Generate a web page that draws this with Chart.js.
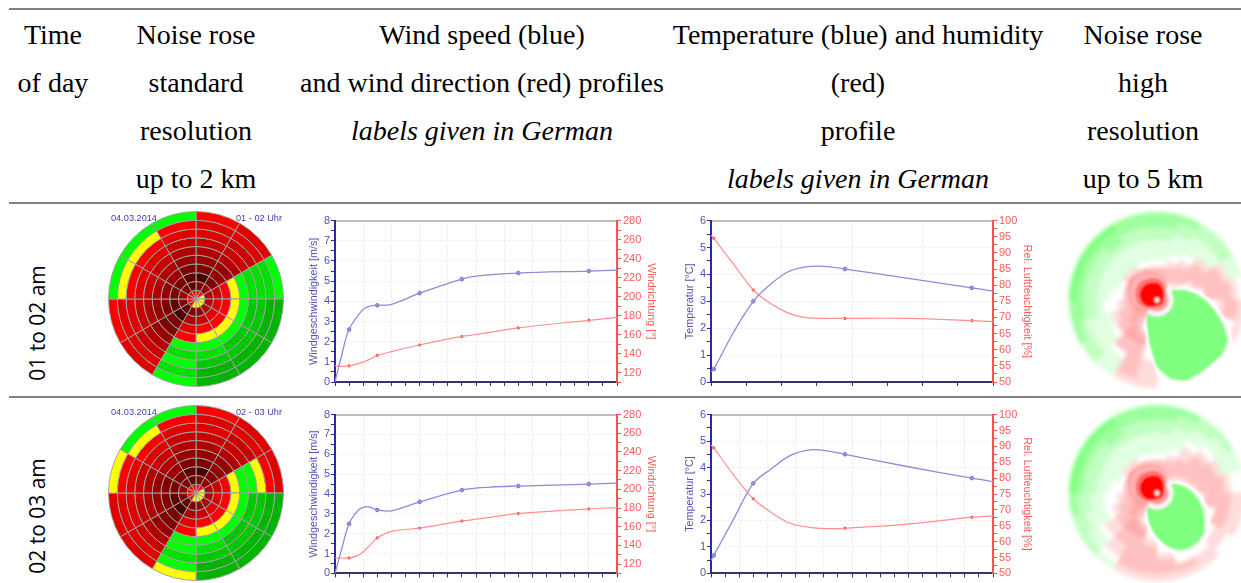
<!DOCTYPE html>
<html>
<head>
<meta charset="utf-8">
<script src="https://cdn.jsdelivr.net/npm/chart.js@4/dist/chart.umd.min.js"></script>
<style>
  html, body { margin: 0; padding: 0; background: #fff; width: 1241px; height: 583px; overflow: hidden; }
  .rule { position: absolute; left: 9px; width: 1232px; height: 2px; background: #808080; }
  .head { position: absolute; top: 11px; font: 28px/48px "Liberation Serif", serif; color: #000; text-align: center; white-space: nowrap; transform: translateX(-50%); }
  .time { position: absolute; left: 37px; font: 21px "Open Sans", sans-serif; color: #000; white-space: nowrap; transform: translate(-50%, -50%) rotate(-90deg); }
  .tag { position: absolute; font: 9.2px "Liberation Sans", sans-serif; color: #4040a8; white-space: nowrap; z-index: 2; }
  canvas { position: absolute; display: block; }
  .rose { filter: blur(0.45px); }
  .fine { filter: blur(2px); }
  .blob { filter: blur(1px); }
  .profile { filter: blur(0.4px); }
</style>
</head>
<body>
<div class="rule" style="top:8px"></div>
<div class="rule" style="top:202px"></div>
<div class="rule" style="top:396px"></div>

<div class="head" style="left:53px">Time<br>of day</div>
<div class="head" style="left:196px">Noise rose<br>standard<br>resolution<br>up to 2 km</div>
<div class="head" style="left:482px">Wind speed (blue)<br>and wind direction (red) profiles<br><i>labels given in German</i></div>
<div class="head" style="left:858px">Temperature (blue) and humidity<br>(red)<br>profile<br><i>labels given in German</i></div>
<div class="head" style="left:1143px">Noise rose<br>high<br>resolution<br>up to 5 km</div>

<div class="time" style="top:323px">01 to 02 am</div>
<div class="time" style="top:516px">02 to 03 am</div>

<div class="tag" style="left:111px;top:213px">04.03.2014</div>
<div class="tag" style="left:236px;top:213px">01 - 02 Uhr</div>
<div class="tag" style="left:111px;top:407px">04.03.2014</div>
<div class="tag" style="left:236px;top:407px">02 - 03 Uhr</div>

<canvas id="rose1" class="rose" width="176" height="176" style="left:108px;top:211px"></canvas>
<canvas id="rose2" class="rose" width="176" height="176" style="left:108px;top:405px"></canvas>
<canvas id="wind1" class="profile" width="360" height="182" style="left:300px;top:212px"></canvas>
<canvas id="wind2" class="profile" width="360" height="176" style="left:300px;top:406px"></canvas>
<canvas id="air1" class="profile" width="370" height="182" style="left:670px;top:212px"></canvas>
<canvas id="air2" class="profile" width="370" height="176" style="left:670px;top:406px"></canvas>
<canvas id="fine1" class="fine" width="176" height="176" style="left:1069px;top:212px"></canvas>
<canvas id="fine2" class="fine" width="176" height="176" style="left:1069px;top:405px"></canvas>
<canvas id="blob1" class="blob" width="176" height="176" style="left:1069px;top:212px"></canvas>
<canvas id="blob2" class="blob" width="176" height="176" style="left:1069px;top:405px"></canvas>

<script>
// --- noise rose, standard resolution: one line per 30 deg sector, clockwise from north,
// rings listed outer to inner. Level: 0-3 green (quiet to louder), 4 yellow, 5-12 red to dark red
const roseLevels1 = [
  [5, 6, 6, 7, 8, 9, 10, 12, 10, 5],
  [6, 6, 7, 7, 8, 9, 9, 10, 9, 5],
  [3, 2, 2, 2, 3, 4, 5, 7, 8, 4],
  [0, 0, 1, 1, 3, 4, 5, 6, 8, 4],
  [0, 0, 1, 1, 3, 4, 5, 6, 8, 4],
  [0, 0, 1, 2, 3, 4, 5, 7, 9, 4],
  [3, 2, 3, 2, 3, 5, 6, 8, 10, 4],
  [6, 6, 7, 8, 9, 10, 10, 12, 11, 5],
  [5, 6, 6, 7, 8, 9, 10, 11, 10, 5],
  [3, 4, 5, 6, 7, 8, 9, 10, 9, 5],
  [3, 4, 5, 6, 7, 8, 9, 10, 10, 5],
  [3, 5, 6, 7, 8, 9, 10, 11, 11, 5],
];
const roseLevels2 = [
  [5, 6, 6, 7, 8, 9, 10, 12, 10, 5],
  [6, 6, 7, 7, 8, 9, 9, 10, 9, 5],
  [6, 5, 4, 3, 3, 4, 5, 7, 8, 4],
  [0, 0, 1, 1, 3, 4, 5, 6, 8, 4],
  [0, 0, 1, 1, 3, 4, 5, 6, 8, 4],
  [0, 0, 1, 2, 3, 4, 5, 7, 9, 4],
  [4, 3, 2, 3, 3, 5, 6, 8, 10, 4],
  [6, 6, 7, 8, 9, 10, 10, 12, 11, 5],
  [6, 6, 6, 7, 8, 9, 10, 11, 10, 5],
  [4, 5, 6, 7, 8, 9, 10, 10, 9, 5],
  [3, 4, 5, 6, 7, 8, 9, 10, 10, 5],
  [3, 5, 6, 7, 8, 9, 10, 11, 11, 5],
];
const rosePalette = ['#00b400', '#00c800', '#00e000', '#00ff00', '#ffff00', '#ff0000',
  '#e00000', '#c80000', '#b00000', '#980000', '#800000', '#600000', '#480000'];
const roseWeights = [1, 1, 1, 1, 1, 1, 1, 1, 1, 1, 1, 1];

// --- noise rose, high resolution: one line per 15 deg sector, clockwise from north,
// rings outer to inner. Negative is green, positive is red, 0 white
const fineLevels1 = [
  [-3, -3, -2, -2, -1, -1, -1, 0, 2, 3, 5, 6, 1],
  [-3, -2, -2, -1, -1, -1, 0, 1, 2, 2, 3, 5, 1],
  [-2, -2, -1, -1, -1, 0, 1, 2, 2, 2, 0, 3, 1],
  [-2, -2, -1, -1, 1, 2, 2, 2, 2, 1, 0, 2, 1],
  [-1, -1, 1, 2, 2, 2, 2, 1, 0, 0, 0, 1, 1],
  [0, 1, 2, 2, 2, 2, 0, 0, 0, 0, 0, 1, 1],
  [1, 2, 2, 1, 0, 0, 0, 0, 0, 0, 0, 1, 1],
  [1, 0, 0, 0, 0, 0, 0, 0, 0, 0, 0, 1, 1],
  [0, 0, 0, 0, 0, 0, 0, 0, 0, 0, 0, 1, 1],
  [0, 0, 0, 0, 0, 0, 0, 0, 0, 0, 0, 0, 1],
  [0, 0, 0, 0, 0, 0, 0, 0, 0, 0, 0, 0, 1],
  [0, 0, 0, 0, 0, 0, 0, 0, 0, 0, 0, 0, 1],
  [1, 1, 1, 1, 0, 0, 0, 0, 0, 0, 0, 0, 1],
  [1, 2, 2, 2, 2, 2, 3, 2, 0, 0, 0, 2, 1],
  [-1, -1, -1, 0, 2, 2, 3, 3, 2, 2, 2, 3, 1],
  [-2, -2, -1, -1, -1, 0, 2, 2, 3, 3, 3, 5, 2],
  [-3, -2, -1, -1, -1, -1, 1, 2, 2, 3, 4, 6, 2],
  [-3, -3, -2, -2, -1, 0, 0, 1, 2, 3, 5, 6, 2],
  [-4, -3, -2, -2, -1, -1, 0, 0, 2, 4, 6, 5, 2],
  [-4, -3, -2, -2, -1, -1, -1, 0, 3, 5, 6, 5, 2],
  [-4, -3, -2, -2, -1, -1, -1, 1, 4, 6, 6, 5, 2],
  [-4, -3, -3, -2, -1, -1, -1, 1, 3, 6, 6, 5, 2],
  [-3, -3, -2, -2, -1, -1, -1, 0, 3, 5, 6, 6, 2],
  [-3, -3, -2, -2, -1, -1, -1, 0, 2, 4, 6, 6, 1],
];
const fineLevels2 = [
  [-3, -3, -2, -2, -1, -1, -1, 0, 2, 3, 5, 6, 1],
  [-3, -2, -2, -1, -1, -1, 0, 1, 2, 2, 3, 5, 1],
  [-2, -2, -1, -1, 0, 1, 1, 2, 2, 2, 2, 3, 1],
  [-2, -1, -1, 0, 1, 2, 2, 2, 2, 1, 0, 2, 1],
  [-1, -1, -1, 1, 2, 2, 2, 2, 1, 0, 0, 1, 1],
  [0, 0, 1, 2, 2, 2, 2, 1, 0, 0, 0, 1, 1],
  [1, 1, 2, 2, 2, 2, 0, 0, 0, 0, 0, 1, 1],
  [1, 1, 2, 2, 0, 0, 0, 0, 0, 0, 0, 1, 1],
  [0, 1, 1, 0, 0, 0, 0, 0, 0, 0, 0, 1, 1],
  [1, 1, 0, 0, 0, 0, 0, 0, 0, 0, 0, 0, 1],
  [1, 2, 0, 0, 0, 0, 0, 0, 0, 0, 0, 0, 1],
  [1, 2, 2, 1, 0, 0, 0, 0, 0, 0, 0, 0, 1],
  [1, 2, 2, 2, 2, 1, 0, 0, 0, 0, 0, 0, 1],
  [1, 2, 2, 2, 2, 2, 3, 2, 0, 0, 0, 2, 1],
  [-1, 0, 1, 1, 2, 2, 3, 3, 2, 2, 2, 3, 1],
  [-2, -1, -1, 0, 1, 1, 2, 2, 3, 3, 3, 5, 2],
  [-2, -2, -1, -1, -1, 0, 1, 2, 2, 3, 4, 6, 2],
  [-3, -2, -2, -1, -1, 0, 0, 1, 2, 3, 5, 6, 2],
  [-4, -3, -2, -2, -1, -1, 0, 0, 2, 4, 6, 5, 2],
  [-4, -3, -2, -2, -1, -1, -1, 0, 3, 5, 6, 5, 2],
  [-4, -3, -2, -2, -1, -1, -1, 1, 4, 6, 6, 5, 2],
  [-4, -3, -3, -2, -1, -1, -1, 1, 3, 6, 6, 5, 2],
  [-3, -3, -2, -2, -1, -1, -1, 0, 3, 5, 6, 6, 2],
  [-3, -3, -2, -2, -1, -1, -1, 0, 2, 4, 6, 6, 1],
];
const finePalette = { '-4': '#80ff80', '-3': '#9cff9c', '-2': '#c0ffc0', '-1': '#e0ffe0', '0': '#ffffff',
  '1': '#ffdcdc', '2': '#ffc0c0', '3': '#ffa8a8', '4': '#ff8888', '5': '#ff4040', '6': '#ff0000' };
const fineWeights = [1, 1, 1, 1, 1, 1, 1, 1, 1, 1, 1, 1, 1, 1, 1, 1, 1, 1, 1, 1, 1, 1, 1, 1];

// --- sharp shapes on top of the high resolution rose: radial extent per 10 deg bearing,
// clockwise from north, radius 264 being the rim of the rose
const fineBearings = ['0', '10', '20', '30', '40', '50', '60', '70', '80', '90', '100', '110',
  '120', '130', '140', '150', '160', '170', '180', '190', '200', '210', '220', '230',
  '240', '250', '260', '270', '280', '290', '300', '310', '320', '330', '340', '350'];
const fineGap1 = [0, 0, 0, 0, 0, 0, 78, 105, 132, 162, 192, 230, 262, 264, 264, 264, 264, 258, 218, 150, 102, 78,
  0, 0, 0, 0, 0, 0, 0, 0, 0, 0, 0, 0, 0, 0];
const fineBlob1 = [0, 0, 0, 0, 0, 0, 60, 88, 115, 145, 175, 212, 245, 255, 252, 255, 257, 240, 200, 130, 85, 62,
  0, 0, 0, 0, 0, 0, 0, 0, 0, 0, 0, 0, 0, 0];
const fineGap2 = [0, 0, 0, 0, 0, 0, 72, 88, 106, 126, 146, 166, 182, 200, 208, 208, 198, 176, 148, 120, 95, 75,
  0, 0, 0, 0, 0, 0, 0, 0, 0, 0, 0, 0, 0, 0];
const fineBlob2 = [0, 0, 0, 0, 0, 0, 55, 72, 90, 110, 128, 148, 165, 185, 192, 192, 183, 160, 132, 105, 80, 60,
  0, 0, 0, 0, 0, 0, 0, 0, 0, 0, 0, 0, 0, 0];
const fineRing = [30, 32, 36, 44, 50, 50, 50, 50, 50, 50, 50, 50, 50, 50, 50, 50, 50, 50, 50, 50, 50, 48,
  44, 30, 0, 0, 0, 0, 0, 0, 0, 0, 0, 0, 0, 20];
const fineInner = [25, 25, 25, 30, 34, 34, 34, 34, 34, 34, 34, 34, 34, 34, 34, 34, 34, 34, 34, 34, 34, 34,
  30, 25, 25, 25, 25, 25, 25, 25, 25, 25, 25, 25, 25, 25];
const fineHalo = [80, 76, 68, 58, 46, 36, 30, 28, 26, 26, 26, 26, 26, 26, 26, 26, 26, 26, 26, 28, 30, 34,
  40, 46, 54, 62, 70, 78, 84, 88, 92, 94, 94, 92, 88, 84];
const fineGlow = [64, 60, 54, 46, 38, 30, 26, 24, 22, 22, 22, 22, 22, 22, 22, 22, 22, 22, 22, 22, 24, 26,
  30, 36, 44, 50, 56, 60, 64, 68, 70, 72, 72, 70, 68, 66];
const fineCore = [50, 46, 40, 34, 28, 24, 22, 20, 18, 16, 16, 16, 16, 16, 16, 16, 14, 14, 14, 16, 18, 20,
  24, 28, 34, 38, 42, 46, 50, 53, 55, 56, 56, 55, 53, 51];
const fineCentre = [10, 10, 10, 10, 10, 10, 10, 10, 10, 10, 10, 10, 10, 10, 10, 10, 10, 10,
  10, 10, 10, 10, 10, 10, 10, 10, 10, 10, 10, 10, 10, 10, 10, 10, 10, 10];

const windCurveX1 = [0, 0.25, 0.5, 1, 1.3, 1.5, 2, 3, 4.5, 5, 6.5, 9, 10];
const windSpeed1 = [0, 1.4, 2.6, 3.6, 3.78, 3.8, 3.85, 4.4, 5.1, 5.25, 5.4, 5.5, 5.55];
const windDir1 = [127, 126.5, 127, 131, 135, 138, 142, 149, 158, 160, 167, 175, 178];
const windCurveX2 = [0, 0.25, 0.5, 0.8, 1, 1.2, 1.5, 2, 3, 4.5, 5.5, 6.5, 9, 10];
const windSpeed2 = [0, 1.3, 2.5, 3.15, 3.33, 3.35, 3.2, 3.15, 3.6, 4.2, 4.35, 4.4, 4.5, 4.55];
const windDir2 = [126.5, 126.5, 126.5, 129, 133, 139, 148, 155, 158.5, 166, 170, 174, 179, 180.5];
const windMarkX = [0.5, 1.5, 3, 4.5, 6.5, 9];
const windSpeedMark1 = [2.6, 3.8, 4.4, 5.1, 5.4, 5.5];
const windDirMark1 = [127, 138, 149, 158, 167, 175];
const windSpeedMark2 = [2.5, 3.2, 3.6, 4.2, 4.4, 4.5];
const windDirMark2 = [126.5, 148, 158.5, 166, 174, 179];

const airCurveX1 = [0, 0.1, 0.8, 1.5, 2.1, 2.7, 3.3, 4, 4.75, 7, 9.25, 10];
const temp1 = [0.38, 0.48, 1.85, 3, 3.62, 4.08, 4.27, 4.3, 4.2, 3.85, 3.5, 3.38];
const humidity1 = [95.5, 94.5, 86.5, 78.5, 74.4, 71.5, 70, 69.7, 69.7, 69.7, 69, 68.7];
const airCurveX2 = [0, 0.1, 0.8, 1.5, 2.1, 2.8, 3.5, 4, 4.75, 7, 9.25, 10];
const temp2 = [0.5, 0.68, 2.05, 3.4, 3.92, 4.45, 4.67, 4.65, 4.5, 4.03, 3.6, 3.47];
const humidity2 = [90.5, 89.5, 81, 73.5, 69.4, 65.8, 64.5, 64.1, 64.2, 65.5, 67.7, 68.1];
const airMarkX = [0.1, 1.5, 4.75, 9.25];
const tempMark1 = [0.48, 3, 4.2, 3.5];
const humidityMark1 = [94.5, 78.5, 69.7, 69];
const tempMark2 = [0.68, 3.4, 4.5, 3.6];
const humidityMark2 = [89.5, 73.5, 64.2, 67.7];

// --- axes: major ticks get a label and a grid line, minor ticks only a mark
const xMajor10 = [0, 1, 2, 3, 4, 5, 6, 7, 8, 9, 10];
const xMinor10 = [0.5, 1.5, 2.5, 3.5, 4.5, 5.5, 6.5, 7.5, 8.5, 9.5];
const xMajorQuarter = [0, 2.5, 5, 7.5, 10];
const xMinorQuarter = [1.25, 3.75, 6.25, 8.75];
const speedMajor = [0, 1, 2, 3, 4, 5, 6, 7, 8];
const speedMinor = [0.5, 1.5, 2.5, 3.5, 4.5, 5.5, 6.5, 7.5];
const dirMajor = [120, 140, 160, 180, 200, 220, 240, 260, 280];
const dirMinor = [110, 130, 150, 170, 190, 210, 230, 250, 270];
const tempMajor = [0, 1, 2, 3, 4, 5, 6];
const tempMinor = [0.5, 1.5, 2.5, 3.5, 4.5, 5.5];
const humidityMajor = [50, 55, 60, 65, 70, 75, 80, 85, 90, 95, 100];
const humidityMinor = [52.5, 57.5, 62.5, 67.5, 72.5, 77.5, 82.5, 87.5, 92.5, 97.5];

const BLUE = '#8c8cd8';
const BLUE_MARK = '#6a6ac0';
const BLUE_TEXT = '#5454b0';
const RED = '#ff9090';
const RED_MARK = '#ff3030';
const RED_TEXT = '#ff5a5a';

Chart.defaults.font.family = '"Liberation Sans", Arial, sans-serif';
Chart.defaults.animation = false;

function drawRose(id, levels, weights, colorOf) {
  let datasets = [];
  // one dataset per ring, first dataset is the outermost
  for (let ring = 0; ring < levels[0].length; ring++) {
    let colors = levels.map(sector => colorOf(sector[ring]));
    datasets.push(colorOf === roseColor
      ? { data: weights, backgroundColor: colors, borderColor: '#a0a0a0', borderWidth: 1, hoverOffset: 0 }
      : { data: weights, backgroundColor: colors, borderColor: colors, borderWidth: 0.6, hoverOffset: 0 });
  }
  new Chart(document.getElementById(id), {
    type: 'doughnut',
    data: { datasets: datasets },
    options: {
      responsive: false,
      events: [],
      cutout: 0,
      plugins: { legend: { display: false }, tooltip: { enabled: false } }
    }
  });
}

function roseColor(level) { return rosePalette[level]; }
function fineColor(level) { return finePalette[level]; }

// the first dataset is painted last, so the list goes from top layer to bottom layer
function drawBlob(id, gap, blob) {
  let layer = (values, color) => ({ data: values, backgroundColor: color, borderWidth: 0, fill: true, pointRadius: 0, tension: 0.15 });
  new Chart(document.getElementById(id), {
    type: 'radar',
    data: {
      labels: fineBearings,
      datasets: [
        layer(fineCentre, '#ffd8d0'),
        layer(fineCore, '#ff0000'),
        layer(fineGlow, '#ff7070'),
        layer(fineInner, '#ff9c9c'),
        layer(fineHalo, '#ffb0b0'),
        layer(fineRing, '#f8f4f4'),
        layer(blob, '#80ff80'),
        layer(gap, '#ffffff')
      ]
    },
    options: {
      responsive: false,
      events: [],
      layout: { padding: 0 },
      plugins: { legend: { display: false }, tooltip: { enabled: false } },
      scales: {
        r: { display: false, min: 0, max: 264, pointLabels: { display: false }, ticks: { display: false } }
      }
    }
  });
}

function toPoints(xs, ys) {
  return xs.map((x, i) => ({ x: x, y: ys[i] }));
}

function tickAxis(major, minor) {
  return {
    afterBuildTicks: axis => {
      axis.ticks = major.concat(minor).sort((a, b) => a - b).map(v => ({ value: v }));
    },
    isMajor: v => major.includes(v)
  };
}

function buildProfile(id, cfg) {
  let xTicks = tickAxis(cfg.xMajor, cfg.xMinor);
  let leftTicks = tickAxis(cfg.leftMajor, cfg.leftMinor);
  let rightTicks = tickAxis(cfg.rightMajor, cfg.rightMinor);
  new Chart(document.getElementById(id), {
    type: 'scatter',
    data: {
      datasets: [
        { yAxisID: 'yLeft', data: toPoints(cfg.curveX, cfg.leftCurve), showLine: true, tension: 0.35,
          borderColor: BLUE, borderWidth: 1.3, pointRadius: 0 },
        { yAxisID: 'yRight', data: toPoints(cfg.curveX, cfg.rightCurve), showLine: true, tension: 0.35,
          borderColor: RED, borderWidth: 1.2, pointRadius: 0 },
        { yAxisID: 'yLeft', data: toPoints(cfg.markX, cfg.leftMark), showLine: false,
          pointRadius: 1.8, pointBackgroundColor: '#b0b0e8', pointBorderColor: BLUE_MARK, pointBorderWidth: 1 },
        { yAxisID: 'yRight', data: toPoints(cfg.markX, cfg.rightMark), showLine: false,
          pointRadius: 1.3, pointBackgroundColor: RED_MARK, pointBorderColor: RED_MARK, pointBorderWidth: 0.5 }
      ]
    },
    options: {
      responsive: false,
      events: [],
      layout: { padding: 0 },
      plugins: { legend: { display: false }, tooltip: { enabled: false } },
      scales: {
        x: {
          type: 'linear', position: 'bottom', min: 0, max: 10,
          afterBuildTicks: xTicks.afterBuildTicks,
          afterFit: s => { s.height = cfg.bottomGap; },
          ticks: { display: false },
          grid: {
            color: c => xTicks.isMajor(c.tick.value) ? '#e6e6e6' : 'rgba(0,0,0,0)',
            tickColor: '#35356a', tickLength: 4
          },
          border: { color: '#35356a', width: 2, dash: [2, 2] }
        },
        xTop: {
          type: 'linear', position: 'top', min: 0, max: 10,
          afterFit: s => { s.height = cfg.topGap; },
          ticks: { display: false },
          grid: { display: false, drawTicks: false },
          border: { color: '#bcbcbc', width: 2 }
        },
        yLeft: {
          type: 'linear', position: 'left', min: cfg.leftMajor[0], max: cfg.leftMajor[cfg.leftMajor.length - 1],
          afterBuildTicks: leftTicks.afterBuildTicks,
          afterFit: s => { s.width = cfg.leftGap; },
          ticks: {
            autoSkip: false, color: BLUE_TEXT, font: { size: 11 }, padding: 1,
            callback: v => leftTicks.isMajor(v) ? String(v) : ''
          },
          grid: {
            color: c => leftTicks.isMajor(c.tick.value) ? '#ebebeb' : 'rgba(0,0,0,0)',
            tickColor: '#2a2a9c', tickLength: 4
          },
          border: { color: '#2a2a9c', width: 2, dash: [2, 2] },
          title: { display: true, text: cfg.leftTitle, color: BLUE_TEXT, font: { size: 10.8 }, padding: { top: cfg.leftTitlePad, bottom: 0 } }
        },
        yRight: {
          type: 'linear', position: 'right', min: cfg.rightMin, max: cfg.rightMajor[cfg.rightMajor.length - 1],
          afterBuildTicks: rightTicks.afterBuildTicks,
          afterFit: s => { s.width = cfg.rightGap; },
          ticks: {
            autoSkip: false, color: RED_TEXT, font: { size: 11 }, padding: 2,
            callback: v => rightTicks.isMajor(v) ? String(v) : ''
          },
          grid: { drawOnChartArea: false, tickColor: '#ff5050', tickLength: 4 },
          border: { color: '#ff5050', width: 2 },
          title: { display: true, text: cfg.rightTitle, color: RED_TEXT, font: { size: 10.8 }, padding: { top: cfg.rightTitlePad, bottom: 0 } }
        }
      }
    }
  });
}

drawRose('rose1', roseLevels1, roseWeights, roseColor);
drawRose('rose2', roseLevels2, roseWeights, roseColor);
drawRose('fine1', fineLevels1, fineWeights, fineColor);
drawRose('fine2', fineLevels2, fineWeights, fineColor);
drawBlob('blob1', fineGap1, fineBlob1);
drawBlob('blob2', fineGap2, fineBlob2);

let windAxes = {
  xMajor: xMajor10, xMinor: xMinor10,
  leftMajor: speedMajor, leftMinor: speedMinor, leftTitle: 'Windgeschwindigkeit [m/s]',
  rightMajor: dirMajor, rightMinor: dirMinor, rightMin: 110, rightTitle: 'Windrichtung [°]',
  markX: windMarkX, leftGap: 35, rightGap: 43, leftTitlePad: 8, rightTitlePad: 3
};
let airAxes = {
  leftMajor: tempMajor, leftMinor: tempMinor, leftTitle: 'Temperatur [°C]',
  rightMajor: humidityMajor, rightMinor: humidityMinor, rightMin: 50, rightTitle: 'Rel. Luftfeuchtigkeit [%]',
  markX: airMarkX, leftGap: 41, rightGap: 47, leftTitlePad: 14, rightTitlePad: 7
};

buildProfile('wind1', Object.assign({}, windAxes, {
  curveX: windCurveX1, leftCurve: windSpeed1, rightCurve: windDir1,
  leftMark: windSpeedMark1, rightMark: windDirMark1, topGap: 7, bottomGap: 12
}));
buildProfile('wind2', Object.assign({}, windAxes, {
  curveX: windCurveX2, leftCurve: windSpeed2, rightCurve: windDir2,
  leftMark: windSpeedMark2, rightMark: windDirMark2, topGap: 7, bottomGap: 6
}));
buildProfile('air1', Object.assign({}, airAxes, {
  xMajor: xMajorQuarter, xMinor: xMinorQuarter,
  curveX: airCurveX1, leftCurve: temp1, rightCurve: humidity1,
  leftMark: tempMark1, rightMark: humidityMark1, topGap: 7, bottomGap: 12
}));
buildProfile('air2', Object.assign({}, airAxes, {
  xMajor: xMajor10, xMinor: xMinor10,
  curveX: airCurveX2, leftCurve: temp2, rightCurve: humidity2,
  leftMark: tempMark2, rightMark: humidityMark2, topGap: 7, bottomGap: 6
}));
</script>
</body>
</html>
